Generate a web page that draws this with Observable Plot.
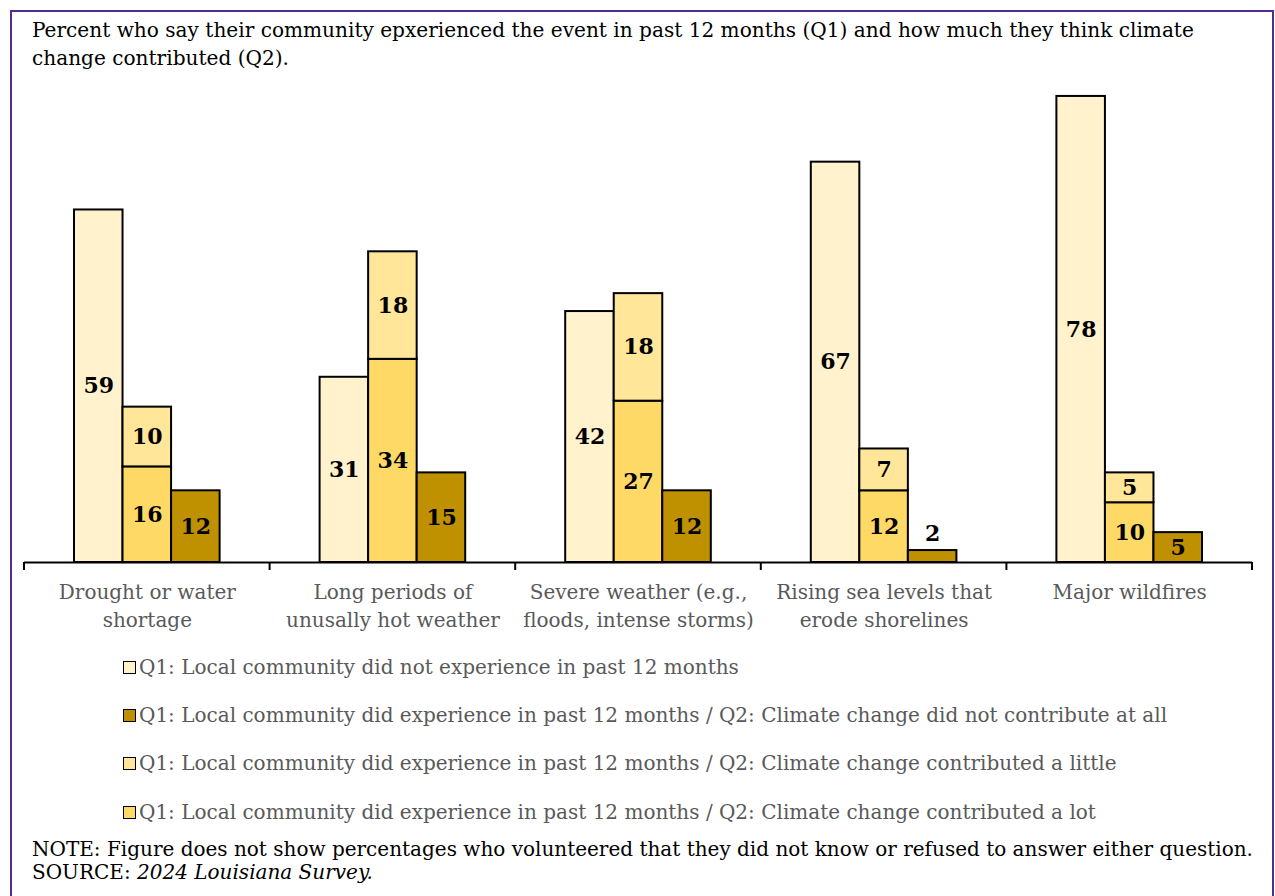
<!DOCTYPE html>
<html><head><meta charset="utf-8">
<script src="https://cdn.jsdelivr.net/npm/d3@7"></script>
<script src="https://cdn.jsdelivr.net/npm/@observablehq/plot@0.6"></script>
<style>
html,body{margin:0;padding:0;background:#fff;width:1275px;height:896px;overflow:hidden;font-family:"DejaVu Serif",serif;}
#frame{position:absolute;left:10px;top:10px;width:1264px;height:1000px;box-sizing:border-box;border:2px solid #512D91;border-bottom:none;z-index:5;pointer-events:none;}
#title{position:absolute;left:32px;top:16px;font-size:20.1px;line-height:28px;color:#000;white-space:nowrap;}
#chart{position:absolute;left:0;top:0;}
.lg{position:absolute;left:123px;height:20px;display:flex;align-items:center;font-size:20px;color:#595959;white-space:nowrap;}
.sw{width:11px;height:11px;border:1.5px solid #000;margin-right:3px;flex:none;}
.nt{position:absolute;left:32px;font-size:20px;line-height:22px;height:22px;color:#000;white-space:nowrap;}
</style></head><body>
<div id="frame"></div>
<div id="title"></div>
<div id="chart"></div>
<div id="legend"></div>
<div id="note1" class="nt" style="top:838px"></div>
<div id="note2" class="nt" style="top:861px"></div>
<script>
const titleLines = ["Percent who say their community epxerienced the event in past 12 months (Q1) and how much they think climate", "change contributed (Q2)."];
const categories = ["Drought or water shortage", "Long periods of unusally hot weather", "Severe weather (e.g., floods, intense storms)", "Rising sea levels that erode shorelines", "Major wildfires"];
const categoryLabels = ["Drought or water\nshortage", "Long periods of\nunusally hot weather", "Severe weather (e.g.,\nfloods, intense storms)", "Rising sea levels that\nerode shorelines", "Major wildfires"];
const seriesNames = [
  "Q1: Local community did not experience in past 12 months",
  "Q1: Local community did experience in past 12 months / Q2: Climate change did not contribute at all",
  "Q1: Local community did experience in past 12 months / Q2: Climate change contributed a little",
  "Q1: Local community did experience in past 12 months / Q2: Climate change contributed a lot"
];
const seriesColors = ["#FFF2CC", "#BF9000", "#FFE699", "#FFD966"];
const notExperienced    = [59, 31, 42, 67, 78];
const notContribute     = [12, 15, 12, 2, 5];
const contributedLittle = [10, 18, 18, 7, 5];
const contributedLot    = [16, 34, 27, 12, 10];
const noteText = "NOTE: Figure does not show percentages who volunteered that they did not know or refused to answer either question.";
const sourceLabel = "SOURCE: ";
const sourceText = "2024 Louisiana Survey.";

const slots = ["not", "exp", "none"];
const rows = [];
categories.forEach((c, i) => {
  rows.push({cat: c, slot: "not", series: seriesNames[0], value: notExperienced[i]});
  rows.push({cat: c, slot: "exp", series: seriesNames[3], value: contributedLot[i]});
  rows.push({cat: c, slot: "exp", series: seriesNames[2], value: contributedLittle[i]});
  rows.push({cat: c, slot: "none", series: seriesNames[1], value: notContribute[i]});
});

document.getElementById("title").innerHTML = titleLines.join("<br>");

const font = '"DejaVu Serif", serif';
const plot = Plot.plot({
  width: 1275, height: 650,
  marginLeft: 24, marginRight: 23, marginTop: 84, marginBottom: 88,
  style: {fontFamily: font, background: "transparent", overflow: "visible"},
  fx: {domain: categories, padding: 0, label: null, round: false},
  x: {domain: slots, paddingInner: 0, paddingOuter: 1.03, axis: null, round: false},
  y: {domain: [0, 80], axis: null},
  color: {domain: seriesNames, range: seriesColors},
  marks: [
    Plot.barY(rows, {fx: "cat", x: "slot", y: "value", fill: "series", stroke: "#000", strokeWidth: 2}),
    Plot.text(rows, Plot.stackY({fx: "cat", x: "slot", y: "value", text: "value", filter: d => d.value >= 4, fontSize: 22, fontWeight: "bold", fill: "#000"})),
    Plot.text(rows, Plot.stackY2({fx: "cat", x: "slot", y: "value", text: "value", filter: d => d.value < 4, dy: -17, fontSize: 22, fontWeight: "bold", fill: "#000"})),
    Plot.ruleY([0], {stroke: "#000", strokeWidth: 2}),
    Plot.axisFx({anchor: "bottom", tickSize: 0, tickPadding: 17, fontSize: 20, lineHeight: 1.4, fill: "#595959", label: null,
      tickFormat: d => categoryLabels[categories.indexOf(d)]})
  ]
});
document.getElementById("chart").appendChild(plot);

// category boundary ticks from the fx scale
const fxs = plot.scale("fx"), ys = plot.scale("y");
const y0 = ys.apply(0);
const edges = categories.map(c => fxs.apply(c));
edges.push(edges[edges.length - 1] + fxs.bandwidth);
d3.select(plot).append("g").selectAll("line").data(edges).join("line")
  .attr("x1", d => d).attr("x2", d => d).attr("y1", y0).attr("y2", y0 + 8)
  .attr("stroke", "#000").attr("stroke-width", 2);

// legend
const legendCenters = [667, 715, 763, 812];
const lg = document.getElementById("legend");
seriesNames.forEach((s, i) => {
  const row = document.createElement("div");
  row.className = "lg";
  row.style.top = (legendCenters[i] - 10) + "px";
  const sw = document.createElement("span");
  sw.className = "sw";
  sw.style.background = plot.scale("color").apply(s);
  row.appendChild(sw);
  row.appendChild(document.createTextNode(s));
  lg.appendChild(row);
});

document.getElementById("note1").textContent = noteText;
document.getElementById("note2").innerHTML = sourceLabel + "<i>" + sourceText + "</i>";
</script>
</body></html>
